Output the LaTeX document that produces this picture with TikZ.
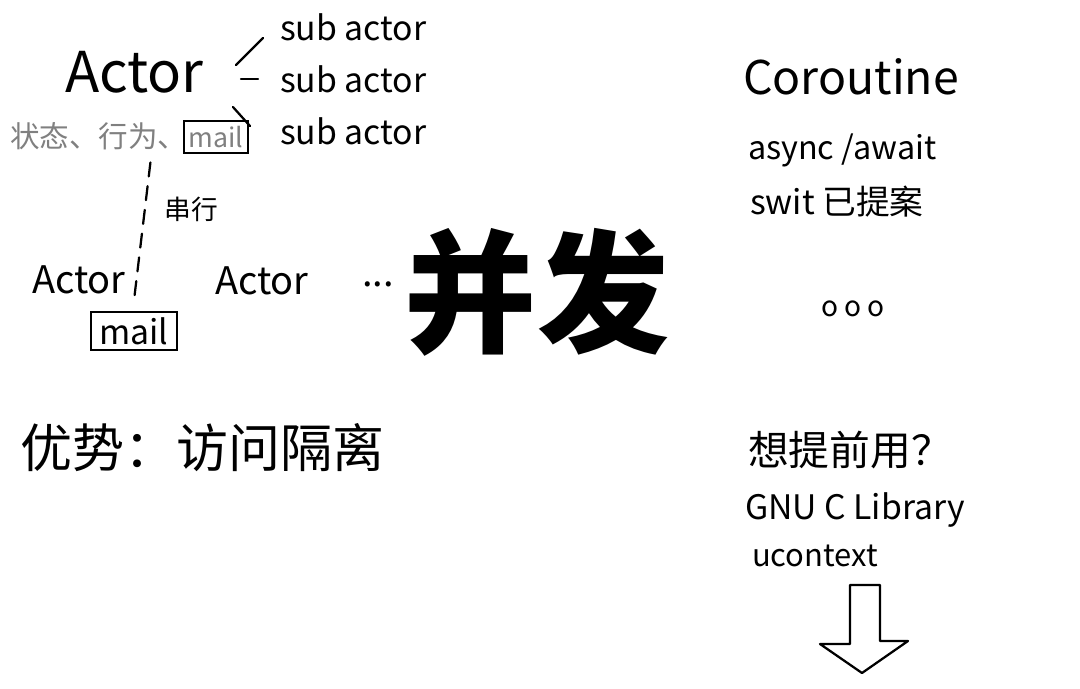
\documentclass[tikz,border=0pt]{standalone}
\usepackage{fontspec}
\setmainfont{Noto Sans CJK SC}
\usetikzlibrary{positioning}

\begin{document}
\begin{tikzpicture}[x=0.025cm,y=-0.025cm,node distance=1.3cm,
  txt/.style={inner sep=0pt,outer sep=0pt},
  big/.style={txt,font=\fontsize{40}{44}\selectfont},
  mid/.style={txt,font=\fontsize{27}{30}\selectfont},
  small/.style={txt,font=\fontsize{23}{26}\selectfont},
  hand/.style={line width=1.6pt,line cap=round,line join=round},
  mailbox/.style={draw,line width=1.4pt,inner xsep=3pt,inner ysep=4pt,outer sep=0pt,font=\fontsize{19}{22}\selectfont}]

\useasboundingbox (0,0) rectangle (1080,689);

\node[big,anchor=west]   (actor) at (65,72) {Actor};
\node[mid,anchor=west,font=\fontsize{24}{28}\selectfont]   (sub1) at (280,27) {sub actor};
 \node[mid,anchor=west,font=\fontsize{24}{28}\selectfont]  (sub2) [below of=sub1] {sub actor};
\node[mid,anchor=west,font=\fontsize{24}{28}\selectfont]   (sub3) [below of=sub2] {sub actor};

\node[txt,anchor=west,text=gray,font=\fontsize{21}{24}\selectfont] (state) at (10,136) {状态、行为、};
\node[mailbox,text=gray] (mail1) at (216,137) {mail};

\node[mid,anchor=west]   (actorA) at (32,280) {Actor};
\node[mid,anchor=west]   (actorB) at (215,281) {Actor};
\node[mid,anchor=west]   (dots) at (362,284) {...};
\node[mailbox,inner xsep=6pt,font=\fontsize{24}{28}\selectfont] (mail2) at (134,331) {mail};

\node[txt,font=\fontsize{94}{100}\selectfont\bfseries] (bingfa) at (537,292) {并发};
\node[txt,anchor=west,font=\fontsize{37}{40}\selectfont] (adv) at (20,448) {优势：访问隔离};

\node[txt,anchor=west,font=\fontsize{33}{36}\selectfont] (coro) at (743,77) {Coroutine};
\node[small,anchor=west] (async) at (748,150) {async /await};
\node[small,anchor=west,font=\fontsize{24}{28}\selectfont] (swift) at (750,202) {swit 已提案};
\node[txt,font=\fontsize{20}{24}\selectfont] (ooo) at (853,309) {o o o};
\node[txt,anchor=west,font=\fontsize{29}{32}\selectfont] (early) at (748,450) {想提前用？};
\node[small,anchor=west,font=\fontsize{24}{28}\selectfont] (glibc) at (745,510) {GNU C Library};
\node[small,anchor=west,font=\fontsize{22}{26}\selectfont] (uctx) at (752,556) {ucontext};

\draw[hand] ([shift={(-44,38)}]sub1.west) -- ([shift={(-17,11)}]sub1.west);
\draw[hand] ([shift={(-39,0)}]sub2.west) -- ([shift={(-22,0)}]sub2.west);
\draw[hand] ([shift={(-47,-24)}]sub3.west) -- ([shift={(-30,-5)}]sub3.west);

\draw[hand,dashed,dash pattern=on 10pt off 7pt] ([shift={(-34,9)}]mail1.south west) -- ([shift={(9,16)}]actorA.east)
  node[pos=0.35,right=14pt,txt,font=\fontsize{19}{22}\selectfont] (serial) {串行};

\draw[hand] (850,585) -- (880,585) -- (880,641) -- (908,641) -- (862,673) -- (820,644) -- (850,644) -- cycle;

\end{tikzpicture}
\end{document}
